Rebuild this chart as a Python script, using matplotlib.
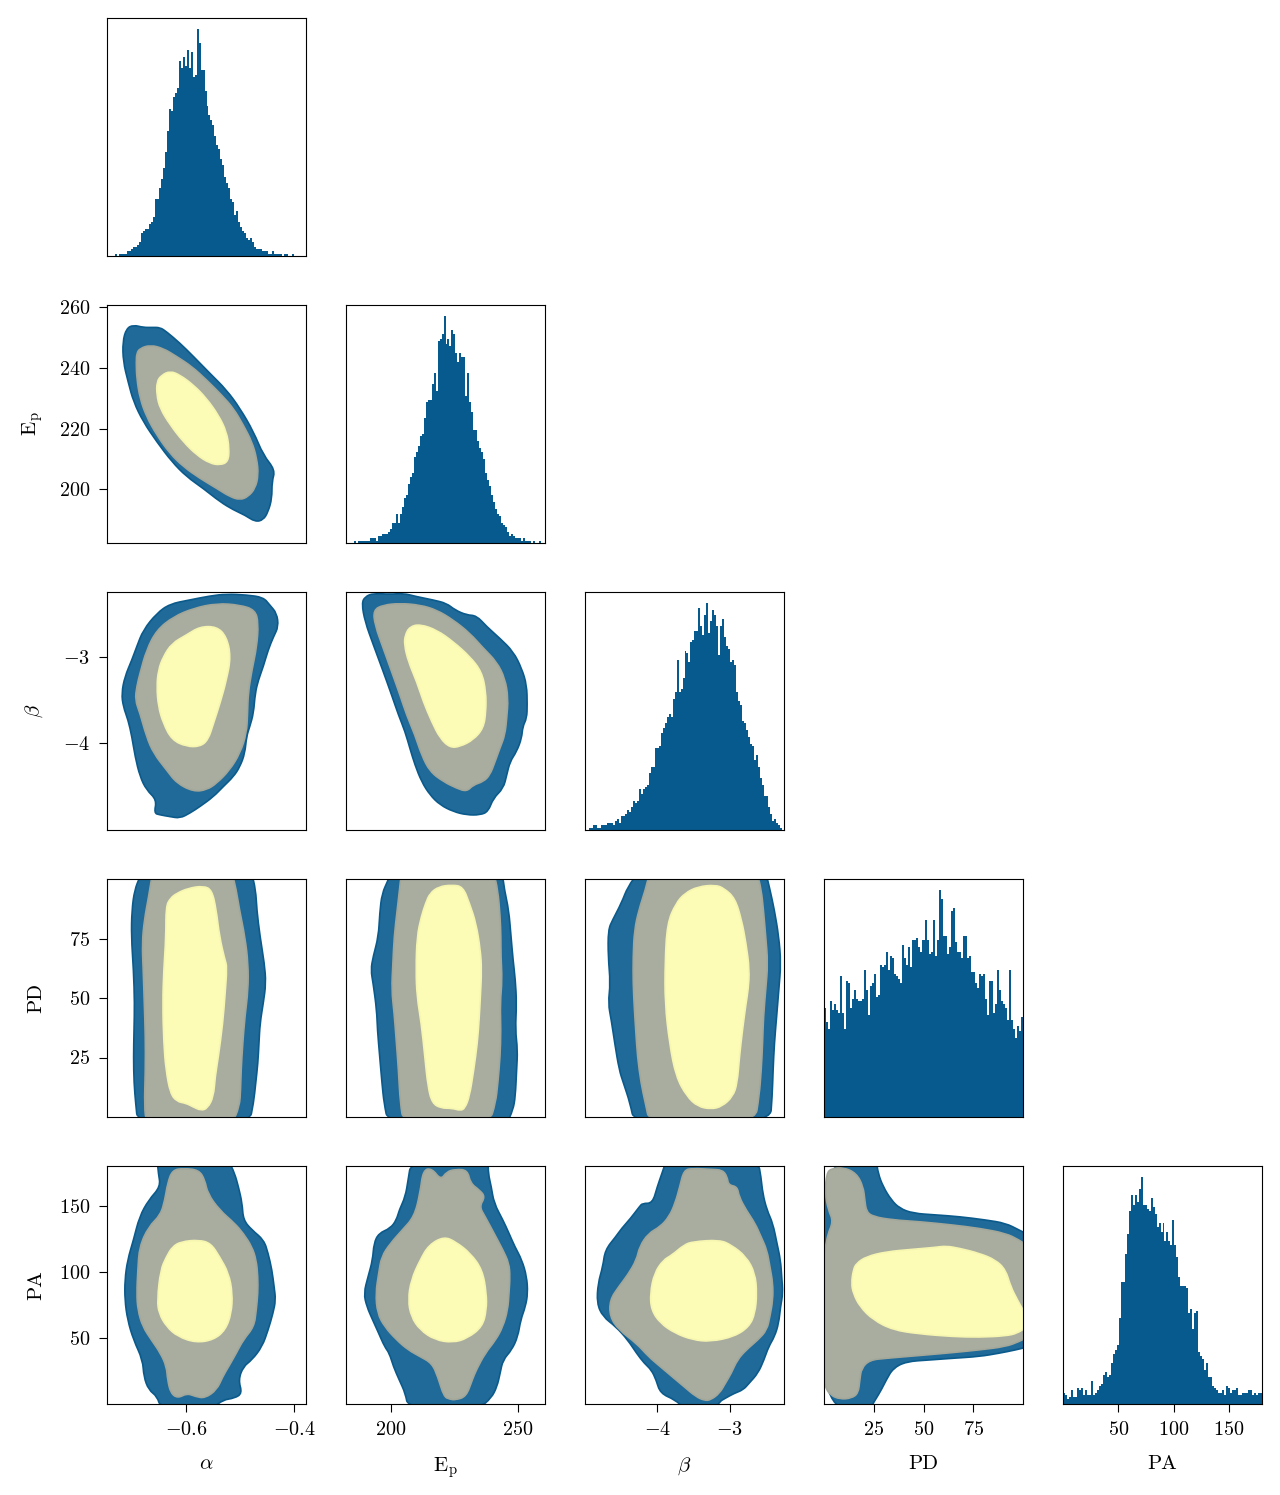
import numpy as np
import matplotlib
matplotlib.use("Agg")
import matplotlib.pyplot as plt
from matplotlib.path import Path
from matplotlib.patches import PathPatch

plt.rcParams['font.family'] = 'serif'
plt.rcParams['font.serif'] = ['cmr10']
plt.rcParams['mathtext.fontset'] = 'cm'
plt.rcParams['axes.formatter.use_mathtext'] = True
plt.rcParams['axes.unicode_minus'] = False

# parameter names, labels and plot ranges
params = ['alpha', 'ep', 'beta', 'pd', 'pa']
labels = [r'$\alpha$', r'$\mathrm{E_p}$', r'$\beta$', 'PD', 'PA']
ranges = [(-0.746, -0.378), (182.3, 260.8), (-5.0, -2.25), (0, 100), (0, 180)]
ticks = [[-0.6, -0.4], [200, 250], [-4, -3], [25, 50, 75], [50, 100, 150]]
yticks = [[], [200, 220, 240, 260], [-4, -3], [25, 50, 75], [50, 100, 150]]

# marginal histograms, 100 bins over each range (relative counts)
hist_alpha = [0, 0, 0, 0, 1, 0, 1, 1, 1, 1, 2, 2, 3, 4, 4, 5, 6, 10, 11, 12,
              12, 14, 15, 17, 25, 25, 30, 34, 39, 46, 55, 65, 64, 70, 72, 74, 86, 83, 88, 84,
              91, 83, 90, 79, 80, 100, 94, 82, 82, 73, 66, 62, 60, 58, 53, 49, 47, 43, 40, 35,
              32, 30, 25, 24, 18, 20, 15, 13, 11, 10, 8, 7, 8, 6, 4, 3, 3, 3, 2, 2,
              2, 1, 1, 2, 1, 1, 1, 1, 0, 1, 1, 0, 0, 1, 0, 0, 0, 0, 0, 0]
hist_ep = [0, 0, 0, 0, 1, 0, 1, 1, 1, 1, 1, 1, 2, 2, 2, 1, 3, 3, 4, 4,
           4, 5, 6, 9, 9, 13, 9, 13, 16, 20, 21, 26, 29, 31, 38, 40, 43, 47, 48, 55,
           62, 63, 63, 70, 75, 67, 89, 90, 92, 100, 88, 90, 87, 94, 92, 84, 80, 84, 82, 82,
           65, 75, 62, 58, 50, 50, 45, 42, 40, 37, 31, 28, 25, 21, 18, 15, 13, 12, 9, 8,
           7, 5, 3, 4, 3, 2, 2, 2, 1, 2, 1, 1, 1, 0, 1, 0, 0, 1, 0, 0]
hist_beta = [0, 0, 1, 1, 2, 2, 1, 1, 2, 2, 2, 3, 3, 3, 2, 4, 5, 3, 6, 6,
             7, 9, 8, 10, 13, 12, 13, 18, 16, 18, 19, 20, 25, 28, 28, 36, 36, 37, 43, 45,
             47, 50, 51, 50, 58, 61, 75, 61, 62, 67, 79, 78, 74, 83, 84, 88, 88, 98, 90, 86,
             95, 100, 87, 92, 97, 95, 90, 77, 90, 93, 85, 81, 80, 74, 75, 73, 61, 57, 55, 48,
             47, 44, 41, 38, 37, 31, 33, 28, 23, 20, 15, 15, 10, 7, 4, 5, 3, 2, 1, 0]
hist_pd = [48, 42, 39, 51, 47, 50, 47, 46, 62, 46, 39, 60, 59, 48, 52, 56, 52, 51, 51, 52,
           65, 56, 45, 58, 59, 63, 53, 54, 67, 66, 67, 73, 65, 71, 70, 63, 62, 61, 59, 76,
           70, 67, 75, 66, 78, 78, 79, 75, 73, 78, 78, 87, 78, 72, 73, 87, 71, 78, 100, 96,
           80, 80, 72, 75, 91, 92, 77, 73, 73, 70, 80, 80, 70, 71, 64, 64, 59, 57, 63, 62,
           63, 52, 45, 60, 60, 46, 50, 65, 56, 51, 50, 48, 43, 65, 43, 39, 35, 40, 38, 44]
hist_pa = [5, 4, 2, 3, 6, 3, 3, 7, 6, 7, 4, 6, 4, 4, 10, 4, 5, 6, 8, 9,
           13, 14, 12, 13, 18, 22, 24, 26, 38, 54, 54, 66, 75, 85, 92, 88, 92, 89, 95, 100,
           88, 88, 86, 85, 91, 87, 84, 78, 80, 76, 80, 72, 76, 72, 70, 81, 70, 65, 56, 52,
           52, 52, 51, 40, 42, 33, 40, 41, 23, 21, 20, 15, 18, 12, 12, 8, 7, 6, 5, 5,
           6, 4, 8, 7, 5, 6, 6, 7, 4, 4, 5, 5, 5, 6, 6, 4, 5, 4, 5, 5]

# credible-region outlines (x, y) in data units: outer, middle, inner
alpha_ep_outer = [(-0.717, 248.7), (-0.710, 253.1), (-0.697, 254.2), (-0.679, 253.4), (-0.663, 253.4),
                  (-0.648, 253.4), (-0.636, 252.0), (-0.611, 248.2), (-0.586, 243.8), (-0.556, 238.3),
                  (-0.525, 232.8), (-0.500, 226.7), (-0.475, 219.0), (-0.457, 211.3), (-0.435, 206.4),
                  (-0.441, 202.5), (-0.441, 197.0), (-0.448, 192.6), (-0.457, 189.9), (-0.472, 189.3),
                  (-0.491, 191.5), (-0.512, 193.2), (-0.537, 195.9), (-0.568, 200.3), (-0.599, 204.2),
                  (-0.626, 209.1), (-0.654, 215.7), (-0.679, 222.3), (-0.697, 228.9), (-0.707, 235.5),
                  (-0.716, 242.1)]
alpha_ep_mid = [(-0.691, 244.9), (-0.685, 246.5), (-0.666, 247.6), (-0.642, 246.5), (-0.617, 243.8),
                (-0.589, 240.5), (-0.562, 236.1), (-0.534, 231.1), (-0.512, 226.7), (-0.494, 221.2),
                (-0.478, 215.7), (-0.469, 210.2), (-0.466, 204.7), (-0.472, 200.3), (-0.485, 197.6),
                (-0.500, 196.5), (-0.519, 197.6), (-0.543, 200.3), (-0.574, 203.6), (-0.605, 207.5),
                (-0.630, 211.9), (-0.654, 217.9), (-0.673, 224.0), (-0.685, 230.0), (-0.691, 236.6),
                (-0.692, 242.1)]
alpha_ep_inner = [(-0.654, 235.5), (-0.645, 237.7), (-0.629, 239.0), (-0.611, 237.7), (-0.586, 234.4),
                  (-0.562, 230.0), (-0.540, 224.5), (-0.525, 219.0), (-0.520, 213.5), (-0.522, 209.1),
                  (-0.537, 208.0), (-0.556, 208.6), (-0.580, 211.3), (-0.605, 215.7), (-0.629, 221.2),
                  (-0.648, 226.7), (-0.654, 231.1)]

alpha_beta_outer = [(-0.691, -2.881), (-0.679, -2.689), (-0.654, -2.496), (-0.630, -2.388), (-0.593, -2.342),
                    (-0.556, -2.296), (-0.525, -2.273), (-0.488, -2.284), (-0.457, -2.311), (-0.445, -2.400),
                    (-0.432, -2.496), (-0.429, -2.650), (-0.438, -2.766), (-0.448, -2.920), (-0.457, -3.112),
                    (-0.466, -3.266), (-0.472, -3.420), (-0.475, -3.651), (-0.482, -3.805), (-0.488, -3.921),
                    (-0.491, -4.113), (-0.500, -4.267), (-0.512, -4.383), (-0.531, -4.498), (-0.549, -4.614),
                    (-0.574, -4.729), (-0.593, -4.806), (-0.611, -4.864), (-0.630, -4.845), (-0.648, -4.825),
                    (-0.659, -4.806), (-0.654, -4.652), (-0.673, -4.537), (-0.685, -4.383), (-0.694, -4.152),
                    (-0.700, -3.921), (-0.707, -3.728), (-0.716, -3.574), (-0.719, -3.420), (-0.713, -3.228),
                    (-0.700, -3.035)]
alpha_beta_mid = [(-0.673, -2.920), (-0.654, -2.689), (-0.623, -2.535), (-0.586, -2.438), (-0.543, -2.381),
                  (-0.500, -2.400), (-0.472, -2.458), (-0.466, -2.612), (-0.469, -2.881), (-0.478, -3.151),
                  (-0.485, -3.420), (-0.486, -3.651), (-0.488, -3.882), (-0.500, -4.113), (-0.519, -4.306),
                  (-0.543, -4.460), (-0.562, -4.537), (-0.586, -4.556), (-0.617, -4.460), (-0.636, -4.306),
                  (-0.660, -4.113), (-0.673, -3.921), (-0.685, -3.651), (-0.694, -3.497), (-0.691, -3.343),
                  (-0.685, -3.189)]
alpha_beta_inner = [(-0.651, -3.151), (-0.642, -2.997), (-0.626, -2.843), (-0.599, -2.746), (-0.574, -2.650),
                    (-0.543, -2.650), (-0.525, -2.766), (-0.517, -2.997), (-0.525, -3.266), (-0.537, -3.536),
                    (-0.549, -3.767), (-0.559, -3.959), (-0.574, -4.036), (-0.599, -4.036), (-0.626, -3.959),
                    (-0.642, -3.767), (-0.651, -3.574), (-0.654, -3.343)]

ep_beta_outer = [(188.5, -2.381), (189.8, -2.304), (193.1, -2.265), (199.7, -2.277), (204.9, -2.265),
                 (210.2, -2.304), (216.7, -2.342), (222.0, -2.381), (225.3, -2.458), (229.9, -2.516),
                 (233.8, -2.523), (237.8, -2.650), (243.0, -2.785), (248.3, -2.939), (251.6, -3.132),
                 (253.6, -3.324), (253.8, -3.555), (253.6, -3.709), (252.0, -3.805), (251.6, -3.940),
                 (249.6, -4.094), (247.0, -4.210), (245.7, -4.364), (244.4, -4.518), (240.4, -4.633),
                 (238.4, -4.787), (235.2, -4.826), (229.9, -4.826), (224.6, -4.787), (219.4, -4.710),
                 (215.4, -4.595), (212.1, -4.441), (209.5, -4.248), (207.5, -4.056), (205.6, -3.863),
                 (203.0, -3.671), (200.3, -3.440), (197.0, -3.170), (193.1, -2.862), (189.8, -2.593)]
ep_beta_mid = [(193.1, -2.458), (197.0, -2.400), (203.6, -2.381), (211.5, -2.400), (218.1, -2.458),
               (224.6, -2.573), (231.2, -2.727), (236.5, -2.901), (241.7, -3.055), (245.0, -3.247),
               (246.3, -3.478), (245.7, -3.709), (245.0, -3.902), (243.0, -4.056), (241.1, -4.210),
               (239.1, -4.364), (236.5, -4.441), (232.5, -4.479), (229.9, -4.556), (226.0, -4.518),
               (220.7, -4.441), (215.4, -4.325), (212.1, -4.133), (209.5, -3.902), (206.2, -3.671),
               (203.6, -3.440), (200.3, -3.170), (197.0, -2.901), (193.7, -2.631)]
ep_beta_inner = [(205.6, -2.747), (207.5, -2.650), (211.5, -2.623), (218.1, -2.689), (224.6, -2.824),
                 (231.2, -2.997), (235.8, -3.170), (237.5, -3.401), (237.5, -3.632), (236.5, -3.824),
                 (232.5, -3.959), (227.3, -4.036), (223.3, -4.048), (219.4, -3.940), (216.1, -3.748),
                 (212.8, -3.517), (210.2, -3.286), (206.9, -3.055), (205.3, -2.862)]

alpha_pd_outer = [(-0.681, 103), (-0.479, 103), (-0.471, 95.4), (-0.469, 87.0), (-0.463, 75.8),
                  (-0.455, 64.6), (-0.452, 56.2), (-0.457, 47.8), (-0.463, 39.4), (-0.465, 31.0),
                  (-0.467, 22.6), (-0.471, 14.2), (-0.475, 5.8), (-0.483, -3), (-0.689, -3),
                  (-0.693, 5.8), (-0.696, 14.2), (-0.697, 25.0), (-0.696, 36.6), (-0.695, 47.8),
                  (-0.697, 61.8), (-0.701, 75.8), (-0.700, 87.0), (-0.695, 95.4), (-0.685, 101)]
alpha_pd_mid = [(-0.661, 103), (-0.515, 103), (-0.507, 95.4), (-0.501, 87.0), (-0.491, 75.8),
                (-0.485, 64.6), (-0.485, 53.4), (-0.491, 42.2), (-0.495, 31.0), (-0.498, 19.8),
                (-0.499, 11.4), (-0.501, 4.4), (-0.515, -3), (-0.673, -3), (-0.677, 4.4),
                (-0.675, 19.8), (-0.675, 33.8), (-0.677, 47.8), (-0.679, 61.8), (-0.681, 73.0),
                (-0.677, 82.8), (-0.669, 92.6), (-0.663, 101)]
alpha_pd_inner = [(-0.617, 94.0), (-0.596, 96.1), (-0.568, 97.1), (-0.552, 95.4), (-0.544, 87.0),
                  (-0.538, 75.8), (-0.528, 66.0), (-0.524, 63.2), (-0.528, 50.6), (-0.532, 39.4),
                  (-0.540, 25.4), (-0.546, 17.0), (-0.549, 8.6), (-0.560, 3.7), (-0.572, 2.7),
                  (-0.588, 4.4), (-0.600, 5.8), (-0.617, 6.5), (-0.629, 10.0), (-0.637, 19.8),
                  (-0.641, 31.0), (-0.643, 47.8), (-0.641, 61.8), (-0.637, 75.8), (-0.637, 88.4),
                  (-0.629, 91.9)]

ep_pd_outer = [(199.9, 103), (243.9, 103), (244.8, 95.4), (246.5, 87.0), (247.4, 75.8),
               (248.2, 66.0), (249.1, 57.6), (249.6, 47.8), (249.1, 36.6), (250.0, 28.2),
               (249.6, 19.8), (249.1, 8.6), (248.2, 3.0), (245.6, -3), (199.0, -3),
               (197.3, 5.8), (196.5, 14.2), (195.6, 25.4), (194.7, 36.6), (194.4, 45.0),
               (193.0, 56.2), (192.1, 61.8), (193.0, 67.4), (195.1, 75.8), (195.6, 85.6),
               (196.5, 94.0), (199.0, 99.6)]
ep_pd_mid = [(204.2, 103), (240.5, 103), (242.2, 95.4), (243.1, 84.2), (243.4, 75.8),
             (243.4, 67.4), (243.9, 57.6), (243.1, 47.8), (243.4, 36.6), (243.1, 25.4),
             (242.2, 14.2), (241.3, 5.8), (238.7, -3), (205.1, -3), (203.7, 5.8),
             (203.0, 19.8), (202.0, 33.8), (201.3, 43.6), (200.3, 53.4), (200.8, 64.6),
             (201.3, 75.8), (202.5, 87.0), (203.4, 95.4)]
ep_pd_inner = [(215.4, 94.0), (218.9, 96.8), (224.1, 97.5), (228.4, 96.8), (231.0, 89.8),
               (233.6, 81.4), (235.3, 70.2), (235.8, 61.8), (235.3, 50.6), (234.8, 40.8),
               (234.1, 31.0), (232.7, 19.8), (231.0, 8.6), (229.2, 3.7), (227.5, 2.7),
               (224.1, 3.7), (219.8, 3.7), (216.3, 5.8), (214.6, 12.8), (213.4, 25.4),
               (212.0, 39.4), (210.3, 50.6), (209.9, 61.8), (210.3, 75.8), (212.0, 84.2),
               (213.7, 89.8)]

beta_pd_outer = [(-4.256, 103), (-2.503, 103), (-2.443, 95.4), (-2.383, 87.0), (-2.322, 75.8),
                 (-2.292, 64.6), (-2.322, 53.4), (-2.352, 42.2), (-2.383, 31.0), (-2.401, 19.8),
                 (-2.413, 8.6), (-2.443, -3), (-4.317, -3), (-4.377, 5.8), (-4.468, 14.2),
                 (-4.528, 19.8), (-4.589, 31.0), (-4.637, 40.8), (-4.680, 47.8), (-4.649, 56.2),
                 (-4.680, 67.4), (-4.680, 78.6), (-4.619, 82.8), (-4.498, 89.8), (-4.408, 96.8)]
beta_pd_mid = [(-4.105, 103), (-2.624, 103), (-2.564, 95.4), (-2.534, 87.0), (-2.503, 75.8),
               (-2.473, 64.6), (-2.503, 53.4), (-2.534, 42.2), (-2.546, 31.0), (-2.564, 19.8),
               (-2.594, 8.6), (-2.655, -3), (-4.105, -3), (-4.166, 5.8), (-4.226, 14.2),
               (-4.275, 25.4), (-4.299, 36.6), (-4.317, 45.0), (-4.335, 56.2), (-4.335, 67.4),
               (-4.317, 78.6), (-4.256, 87.0), (-4.166, 95.4)]
beta_pd_inner = [(-3.743, 89.8), (-3.622, 94.0), (-3.440, 96.8), (-3.199, 97.5), (-3.078, 96.1),
                 (-2.927, 91.9), (-2.836, 82.8), (-2.775, 73.0), (-2.727, 61.8), (-2.745, 53.4),
                 (-2.775, 47.8), (-2.824, 36.6), (-2.866, 25.4), (-2.896, 14.2), (-2.957, 8.6),
                 (-3.108, 4.4), (-3.259, 3.3), (-3.440, 4.4), (-3.592, 8.6), (-3.743, 17.0),
                 (-3.833, 31.0), (-3.894, 47.8), (-3.894, 64.6), (-3.864, 81.4)]

alpha_pa_outer = [(-0.653, 184), (-0.521, 184), (-0.510, 174.5), (-0.503, 164.4), (-0.496, 151.8),
                  (-0.494, 139.2), (-0.478, 131.6), (-0.456, 124.1), (-0.448, 114.0), (-0.441, 101.4),
                  (-0.437, 88.8), (-0.434, 78.7), (-0.439, 68.6), (-0.448, 56.0), (-0.459, 43.4),
                  (-0.478, 33.3), (-0.494, 28.3), (-0.503, 18.2), (-0.496, 8.1), (-0.510, 4.4),
                  (-0.532, 3.1), (-0.549, -3), (-0.647, -3), (-0.653, 5.6), (-0.669, 10.7),
                  (-0.678, 20.7), (-0.680, 33.3), (-0.697, 48.5), (-0.708, 63.6), (-0.713, 78.7),
                  (-0.713, 93.8), (-0.708, 108.9), (-0.697, 124.1), (-0.686, 141.7), (-0.669, 154.3),
                  (-0.647, 164.4), (-0.651, 174.5)]
alpha_pa_mid = [(-0.625, 177.0), (-0.604, 178.2), (-0.576, 177.0), (-0.565, 169.4), (-0.560, 159.3),
                (-0.538, 146.7), (-0.510, 136.7), (-0.494, 129.1), (-0.478, 119.0), (-0.470, 108.9),
                (-0.467, 96.3), (-0.467, 83.7), (-0.470, 71.1), (-0.474, 58.5), (-0.494, 48.5),
                (-0.507, 38.4), (-0.521, 28.3), (-0.532, 20.7), (-0.543, 10.7), (-0.565, 4.4),
                (-0.582, 5.6), (-0.598, 8.1), (-0.615, 4.4), (-0.628, 8.1), (-0.634, 18.2),
                (-0.636, 28.3), (-0.647, 38.4), (-0.664, 48.5), (-0.680, 58.5), (-0.689, 71.1),
                (-0.691, 83.7), (-0.689, 101.4), (-0.686, 119.0), (-0.669, 134.1), (-0.647, 143.0),
                (-0.639, 154.3), (-0.634, 166.9)]
alpha_pa_inner = [(-0.625, 119.0), (-0.609, 122.8), (-0.576, 124.1), (-0.554, 121.5), (-0.538, 111.5),
                  (-0.521, 98.9), (-0.514, 83.7), (-0.516, 68.6), (-0.527, 56.0), (-0.549, 48.5),
                  (-0.582, 46.4), (-0.615, 51.0), (-0.636, 58.5), (-0.650, 68.6), (-0.653, 78.7),
                  (-0.647, 101.4), (-0.636, 111.5)]

ep_pa_outer = [(208.0, 184), (238.4, 184), (238.4, 174.5), (239.6, 164.4), (240.7, 151.8),
               (244.2, 139.2), (246.6, 129.1), (248.9, 119.0), (251.7, 108.9), (253.6, 96.3),
               (254.0, 83.7), (253.1, 73.7), (251.2, 63.6), (250.1, 51.0), (247.7, 40.9),
               (244.2, 33.3), (243.1, 23.3), (241.9, 13.2), (239.6, 4.4), (234.9, -3),
               (206.8, -3), (205.7, 8.1), (203.3, 18.2), (201.0, 28.3), (199.4, 38.4),
               (197.5, 43.4), (195.2, 53.5), (192.8, 63.6), (190.5, 73.7), (189.3, 83.7),
               (191.0, 96.3), (192.8, 108.9), (193.3, 121.5), (195.2, 129.1), (199.8, 132.9),
               (202.2, 139.2), (203.3, 146.7), (205.7, 156.8), (206.8, 169.4)]
ep_pa_mid = [(212.7, 177.0), (216.2, 178.2), (219.7, 169.4), (222.0, 175.7), (225.5, 177.5),
             (230.2, 177.0), (231.4, 166.9), (234.9, 161.9), (237.2, 156.8), (234.9, 149.3),
             (237.2, 141.7), (240.7, 129.1), (244.2, 116.5), (246.6, 106.4), (247.0, 96.3),
             (246.6, 83.7), (246.1, 71.1), (244.2, 58.5), (241.4, 48.5), (237.2, 38.4),
             (233.7, 25.8), (232.1, 18.2), (229.7, 5.6), (225.5, 3.1), (223.2, 3.6),
             (220.9, 5.6), (218.5, 20.7), (216.2, 30.8), (211.5, 35.9), (206.8, 40.9),
             (202.2, 48.5), (197.5, 58.5), (194.7, 68.6), (194.0, 83.7), (195.2, 98.9),
             (196.3, 111.5), (199.8, 121.5), (204.5, 131.6), (209.2, 141.7), (211.5, 159.3)]
ep_pa_inner = [(211.5, 108.9), (215.0, 120.3), (220.9, 126.6), (225.5, 122.8), (231.4, 114.0),
               (236.1, 101.4), (237.7, 83.7), (237.7, 71.1), (236.1, 58.5), (230.2, 49.7),
               (224.4, 46.4), (217.4, 48.5), (211.5, 56.0), (208.0, 66.1), (206.8, 78.7),
               (208.0, 93.8)]

beta_pa_outer = [(-3.878, 184), (-2.609, 184), (-2.568, 171.9), (-2.544, 159.3), (-2.486, 146.7),
                 (-2.404, 136.7), (-2.347, 121.5), (-2.298, 108.9), (-2.282, 96.3), (-2.265, 83.7),
                 (-2.298, 73.7), (-2.323, 61.1), (-2.380, 51.0), (-2.462, 43.4), (-2.527, 33.3),
                 (-2.609, 23.3), (-2.732, 15.7), (-2.814, 10.7), (-2.937, 8.1), (-3.060, 4.4),
                 (-3.141, 1.8), (-3.182, -3), (-3.633, -3), (-3.755, 3.1), (-3.960, 8.1),
                 (-4.017, 18.2), (-4.083, 25.8), (-4.181, 30.8), (-4.288, 38.4), (-4.410, 48.5),
                 (-4.574, 58.5), (-4.754, 66.1), (-4.836, 76.2), (-4.820, 91.3), (-4.754, 103.9),
                 (-4.722, 116.5), (-4.574, 126.6), (-4.492, 132.9), (-4.370, 140.4), (-4.247, 149.3),
                 (-4.206, 151.8), (-4.067, 151.8), (-4.001, 164.4), (-3.936, 174.5)]
beta_pa_mid = [(-3.633, 177.0), (-3.510, 178.2), (-3.264, 177.5), (-3.100, 177.0), (-3.035, 171.9),
               (-3.018, 165.6), (-2.896, 164.4), (-2.871, 156.8), (-2.773, 146.7), (-2.650, 136.7),
               (-2.568, 126.6), (-2.486, 116.5), (-2.445, 103.9), (-2.404, 91.3), (-2.404, 78.7),
               (-2.445, 66.1), (-2.486, 56.0), (-2.609, 48.5), (-2.773, 40.9), (-2.896, 33.3),
               (-2.978, 23.3), (-3.060, 15.7), (-3.141, 8.1), (-3.264, 3.1), (-3.346, 2.6),
               (-3.469, 5.6), (-3.633, 13.2), (-3.796, 20.7), (-3.960, 28.3), (-4.124, 35.9),
               (-4.288, 45.9), (-4.533, 56.0), (-4.656, 66.1), (-4.656, 78.7), (-4.533, 88.8),
               (-4.410, 97.6), (-4.288, 108.9), (-4.247, 119.0), (-4.124, 129.1), (-3.960, 134.1),
               (-3.837, 141.7), (-3.755, 151.8), (-3.690, 164.4)]
beta_pa_inner = [(-3.633, 120.3), (-3.510, 122.8), (-3.141, 124.1), (-2.978, 120.3), (-2.773, 111.5),
                 (-2.650, 98.9), (-2.625, 83.7), (-2.650, 68.6), (-2.732, 58.5), (-2.937, 51.0),
                 (-3.264, 47.2), (-3.510, 48.5), (-3.755, 53.5), (-3.960, 61.1), (-4.083, 71.1),
                 (-4.099, 83.7), (-4.042, 98.9), (-3.919, 108.9), (-3.796, 112.7)]

pd_pa_outer = [(-3, 184), (26.3, 184), (27.2, 174.5), (29.7, 164.4), (33.8, 154.3),
               (38.0, 148.0), (44.7, 144.2), (56.3, 143.0), (68.0, 141.7), (81.3, 139.2),
               (91.3, 136.7), (98.0, 131.6), (103, 127.8), (103, 43.4), (96.3, 40.9),
               (88.0, 38.4), (78.0, 35.9), (64.7, 34.6), (53.0, 33.3), (41.3, 32.1),
               (34.7, 27.0), (31.3, 18.2), (28.8, 10.7), (26.3, 4.4), (24.7, 0.6),
               (24.0, -3), (-3, -3)]
pd_pa_mid = [(1.3, 174.5), (3.8, 178.2), (9.7, 179.0), (16.3, 174.5), (19.7, 164.4),
             (20.5, 154.3), (21.3, 145.5), (24.7, 141.7), (34.7, 139.2), (48.0, 137.9),
             (64.7, 135.4), (78.0, 132.9), (91.3, 129.1), (98.0, 124.1), (103, 119.0),
             (103, 51.0), (98.0, 47.2), (91.3, 43.4), (78.0, 40.9), (64.7, 38.9),
             (51.3, 37.1), (31.3, 34.6), (23.0, 33.3), (18.8, 27.0), (18.0, 18.2),
             (17.2, 8.1), (13.8, 4.4), (8.0, 3.6), (3.0, 6.9), (0.5, 13.2),
             (-3, 33.3), (-3, 83.7), (1.3, 126.6), (4.7, 137.9), (2.2, 146.7),
             (0.5, 159.3)]
pd_pa_inner = [(14.7, 101.4), (16.3, 106.4), (21.3, 111.5), (31.3, 115.2), (44.7, 117.0),
               (56.3, 118.5), (61.3, 119.5), (68.0, 117.8), (78.0, 114.0), (86.3, 108.9),
               (91.3, 101.4), (93.8, 88.8), (97.2, 78.7), (100, 71.1), (102, 66.1),
               (102, 58.5), (97.2, 53.5), (91.3, 51.5), (78.0, 50.5), (64.7, 51.0),
               (48.0, 53.0), (34.7, 56.0), (24.7, 63.6), (18.0, 73.7), (14.7, 83.7),
               (13.8, 91.3)]

hists = [hist_alpha, hist_ep, hist_beta, hist_pd, hist_pa]
contours = {
    (0, 1): (alpha_ep_outer, alpha_ep_mid, alpha_ep_inner),
    (0, 2): (alpha_beta_outer, alpha_beta_mid, alpha_beta_inner),
    (1, 2): (ep_beta_outer, ep_beta_mid, ep_beta_inner),
    (0, 3): (alpha_pd_outer, alpha_pd_mid, alpha_pd_inner),
    (1, 3): (ep_pd_outer, ep_pd_mid, ep_pd_inner),
    (2, 3): (beta_pd_outer, beta_pd_mid, beta_pd_inner),
    (0, 4): (alpha_pa_outer, alpha_pa_mid, alpha_pa_inner),
    (1, 4): (ep_pa_outer, ep_pa_mid, ep_pa_inner),
    (2, 4): (beta_pa_outer, beta_pa_mid, beta_pa_inner),
    (3, 4): (pd_pa_outer, pd_pa_mid, pd_pa_inner),
}

hist_color = '#075a8e'
fill_colors = ['#1f6a98', '#a9ada0', '#fcfcb6']
edge_colors = ['#0b5a8c', '#a3a79a', '#f6f6b0']


def smooth_patch(poly, **kw):
    # closed outline drawn as quadratic bezier through edge midpoints
    pts = np.asarray(poly, dtype=float)
    mids = 0.5 * (pts + np.roll(pts, -1, axis=0))
    verts = [mids[-1]]
    codes = [Path.MOVETO]
    for i in range(len(pts)):
        verts += [pts[i], mids[i]]
        codes += [Path.CURVE3, Path.CURVE3]
    verts.append(mids[-1])
    codes.append(Path.CLOSEPOLY)
    return PathPatch(Path(verts, codes), **kw)


W, H = 1280, 1495
fig = plt.figure(figsize=(W / 100, H / 100), dpi=100)

ax_w, ax_h = 199, 238
for r in range(5):
    for c in range(r + 1):
        left = 107 + 239 * c
        top = 18 + 287 * r
        ax = fig.add_axes([left / W, 1 - (top + ax_h) / H, ax_w / W, ax_h / H])
        lo, hi = ranges[c]
        if r == c:
            edges = np.linspace(lo, hi, len(hists[c]) + 1)
            centers = 0.5 * (edges[:-1] + edges[1:])
            ax.hist(centers, bins=edges, weights=hists[c], color=hist_color, linewidth=0)
            ax.set_yticks([])
        else:
            for poly, fc, ec in zip(contours[(c, r)], fill_colors, edge_colors):
                ax.add_patch(smooth_patch(poly, facecolor=fc, edgecolor=ec, linewidth=1.2))
            ax.set_ylim(*ranges[r])
            if c == 0:
                ax.set_yticks(yticks[r])
                ax.set_ylabel(labels[r], fontsize=15)
                ax.yaxis.set_label_coords(-0.31, 0.5)
            else:
                ax.set_yticks([])
        ax.set_xlim(lo, hi)
        if r == 4:
            ax.set_xticks(ticks[c])
            ax.set_xlabel(labels[c], fontsize=15)
            ax.xaxis.set_label_coords(0.5, -0.215)
        else:
            ax.set_xticks([])
        ax.tick_params(labelsize=14.5, length=6, pad=6)

fig.savefig('out.png', dpi=100)
